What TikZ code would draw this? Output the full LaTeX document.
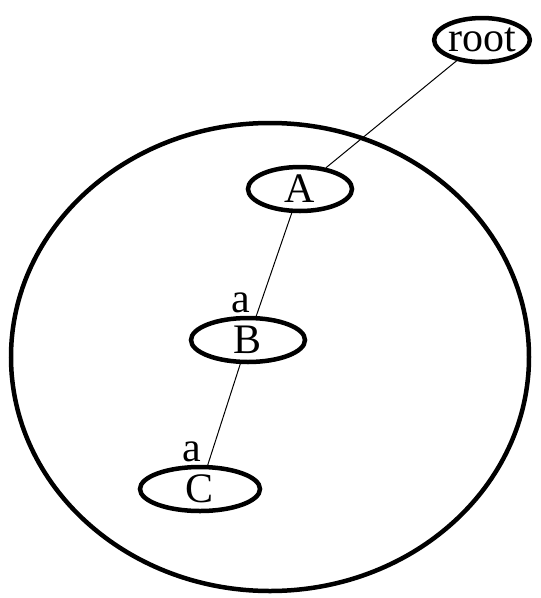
\documentclass[tikz,border=0pt]{standalone}
\usepackage{fontspec}
\setmainfont{Liberation Serif}
\usetikzlibrary{shapes.geometric}

\begin{document}
\begin{tikzpicture}[
  x=1pt,y=-1pt,
  state/.style={ellipse,draw=black,line width=4.5pt,inner sep=0pt,minimum height=44pt,font=\fontsize{42}{44}\selectfont},
  cluster/.style={ellipse,draw=black,line width=4.5pt,inner sep=0pt,minimum width=518pt,minimum height=468pt},
  link/.style={draw=black,line width=1pt},
  tag/.style={font=\fontsize{42}{44}\selectfont,inner sep=1pt}
]
\useasboundingbox (0,0) rectangle (541,598);
\node[cluster] (grp) at (270,357) {};
\node[state,minimum width=92pt] (root) at (482,40) {root};
\node[state,minimum width=104pt] (A) at (300,189) {A};
\node[state,minimum width=114pt] (B) at (248,340) {B};
\node[state,minimum width=120pt] (C) at (200,489) {C};
\draw[link] (root) -- (A);
\draw[link] (A) -- node[tag,pos=0.87,left=9pt]{a} (B);
\draw[link] (B) -- node[tag,pos=0.87,left=9pt]{a} (C);
\end{tikzpicture}
\end{document}
